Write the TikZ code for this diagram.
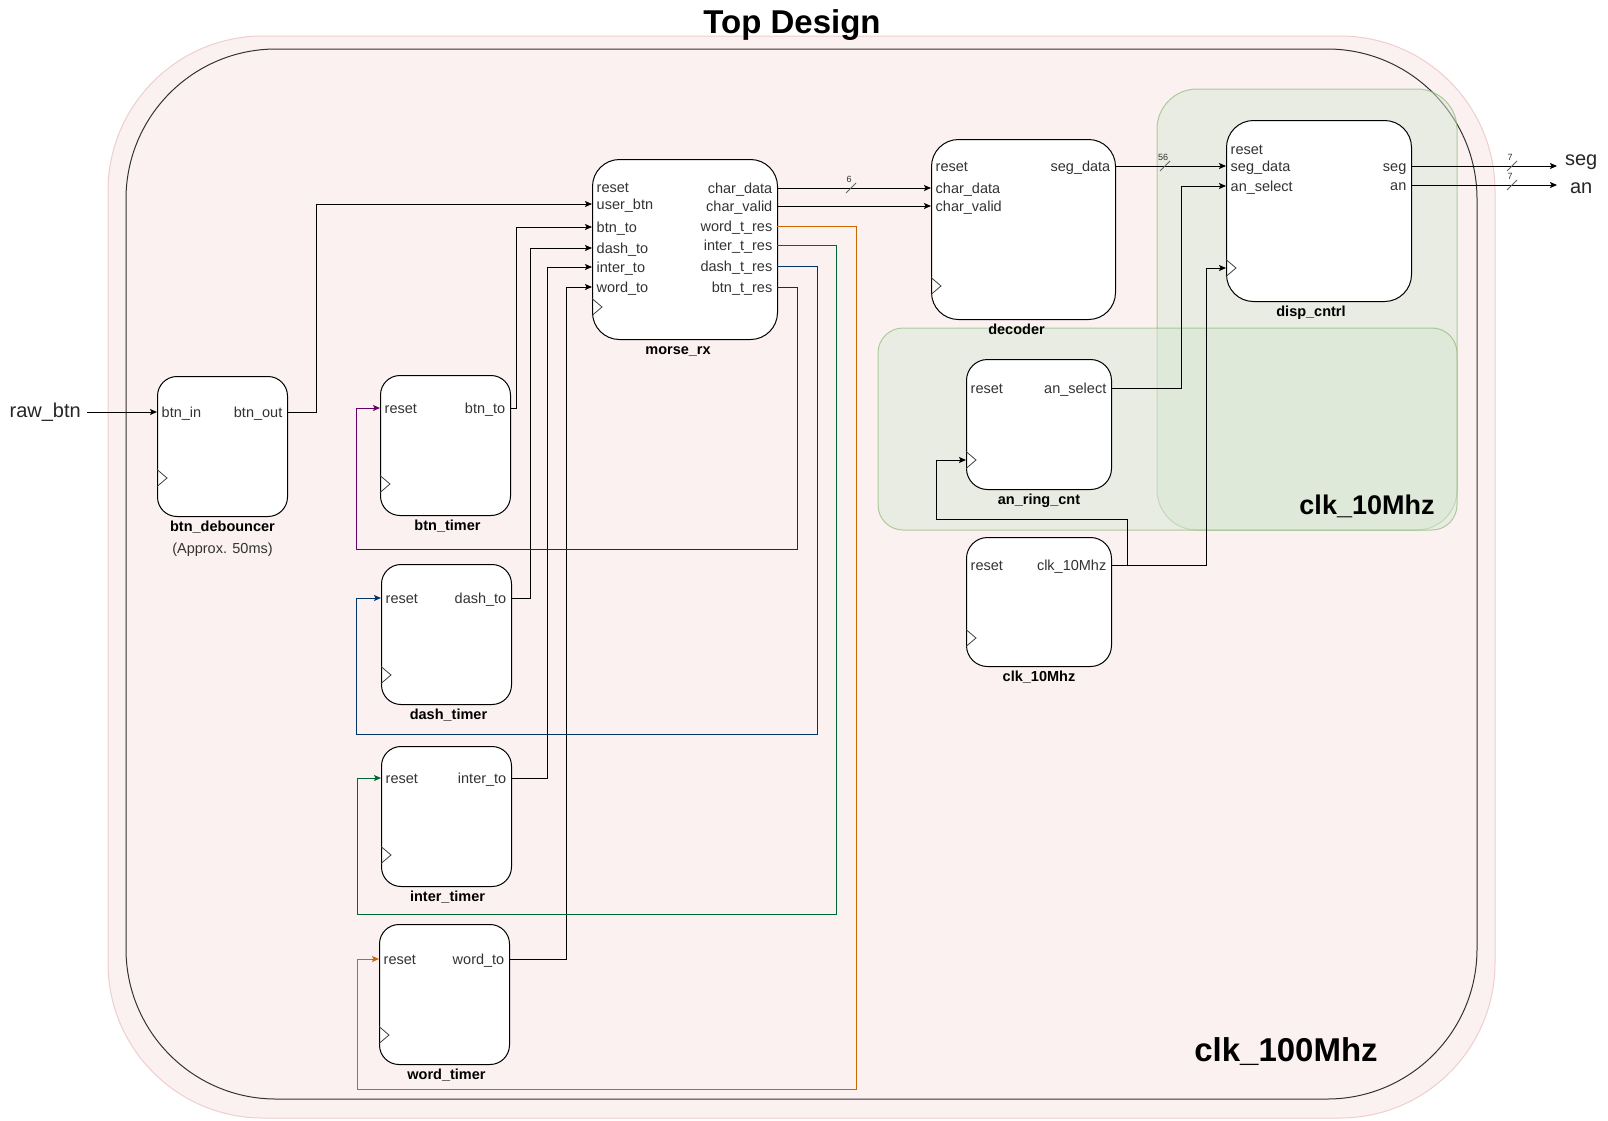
\documentclass[tikz,border=0pt]{standalone}
\usepackage{fontspec}
\setmainfont{Liberation Sans}
\usetikzlibrary{arrows.meta,positioning}

\definecolor{regpink}{RGB}{252,241,241}
\definecolor{regpinkline}{RGB}{238,206,206}
\definecolor{reggreen}{RGB}{213,232,212}
\definecolor{reggreenline}{RGB}{130,179,102}
\definecolor{rstpurple}{RGB}{102,0,102}
\definecolor{rstblue}{RGB}{0,51,102}
\definecolor{rstgreen}{RGB}{0,102,51}
\definecolor{rstorange}{RGB}{204,102,0}

\newcommand{\clocktri}[2]{\draw[black!75, line width=0.8pt] (#1,#2-8.5) -- (#1+10,#2) -- (#1,#2+8.5);}
\newcommand{\buswidth}[4]{\draw[black!60, line width=0.8pt] (#1-5,#2+5) -- (#1+5,#2-5);
    \node[busnum] (#4) at (#1-2,#2-9) {#3};}

\begin{document}
\begin{tikzpicture}[x=1pt, y=-1pt, >={Stealth[length=7pt,width=6pt,inset=1.5pt]},
    module/.style={draw, fill=white, line width=1pt, anchor=north west, inner sep=0pt, rounded corners=#1},
    module/.default=19.5pt,
    pinl/.style={anchor=west, inner xsep=4.5pt, inner ysep=0pt, text height=14pt, text depth=3pt, text=black!80, font=\fontsize{14.5}{16}\selectfont},
    pinr/.style={pinl, anchor=east},
    modname/.style={inner sep=0pt, text height=10.5pt, text depth=3pt, font=\fontsize{14.5}{16}\selectfont\bfseries},
    note/.style={inner sep=0pt, text height=10.5pt, text depth=3pt, text=black!80, font=\fontsize{14.5}{16}\selectfont},
    extpin/.style={anchor=west, inner sep=0pt, minimum width=48pt, text=black!85, font=\fontsize{20}{22}\selectfont},
    busnum/.style={inner sep=0pt, text=black!80, font=\fontsize{9}{10}\selectfont},
    region/.style={fill=reggreen, draw=reggreenline, fill opacity=0.5, draw opacity=0.6, line width=1pt},
    wire/.style={line width=1pt}]

    \fill[white] (0,0) rectangle (1608,1120);
    \useasboundingbox (0,0) rectangle (1608,1120);

    % clock domains
    \draw[fill=regpink, draw=regpinkline, line width=1pt, rounded corners=155pt] (108,36) rectangle (1495,1118);
    \draw[black!80, line width=1pt, rounded corners=150pt] (126,49) rectangle (1477,1099);
    \draw[region, rounded corners=40pt] (1157,89) rectangle (1457,530);
    \draw[region, rounded corners=25pt] (878,328) rectangle (1457,530);

    \node[font=\fontsize{33}{36}\selectfont\bfseries] (title) at (792,25) {Top Design};
    \node[font=\fontsize{33}{36}\selectfont\bfseries] (lbl100) at (1286,1052) {clk\_100Mhz};
    \node[font=\fontsize{27}{30}\selectfont\bfseries] (lbl10) at (1367,506) {clk\_10Mhz};

    % btn_debouncer
    \node[module, minimum width=130pt, minimum height=140pt] (bd) at (157,376) {};
    \node[pinl] (bd-in) at (157,412) {btn\_in};
    \node[pinr] (bd-out) at (287,412) {btn\_out};
    \clocktri{157}{478}
    \node[modname, below=4pt of bd] (bd-name) {btn\_debouncer};
    \node[note, below=7.5pt of bd-name] (bd-note) {(Approx. 50ms)};
    \node[font=\fontsize{20}{22}\selectfont, text=black!85, anchor=east, inner ysep=0pt, inner xsep=6pt, text height=14pt, text depth=4pt] (raw) at (87,412) {raw\_btn};

    % timers
    \node[module, minimum width=130pt, minimum height=140pt] (bt) at (380,375) {};
    \node[pinl] (bt-rst) at (380,408) {reset};
    \node[pinr] (bt-to) at (510,408) {btn\_to};
    \clocktri{380}{484}
    \node[modname, below=4pt of bt, xshift=2pt] (bt-name) {btn\_timer};

    \node[module, minimum width=130pt, minimum height=140pt] (dt) at (381,564) {};
    \node[pinl] (dt-rst) at (381,598) {reset};
    \node[pinr] (dt-to) at (511,598) {dash\_to};
    \clocktri{381}{675}
    \node[modname, below=4pt of dt, xshift=2pt] (dt-name) {dash\_timer};

    \node[module, minimum width=130pt, minimum height=140pt] (it) at (381,746) {};
    \node[pinl] (it-rst) at (381,778) {reset};
    \node[pinr] (it-to) at (511,778) {inter\_to};
    \clocktri{381}{855}
    \node[modname, below=4pt of it, xshift=1pt] (it-name) {inter\_timer};

    \node[module, minimum width=130pt, minimum height=140pt] (wt) at (379,924) {};
    \node[pinl] (wt-rst) at (379,959) {reset};
    \node[pinr] (wt-to) at (509,959) {word\_to};
    \clocktri{379}{1035}
    \node[modname, below=4pt of wt, xshift=2pt] (wt-name) {word\_timer};

    % morse_rx
    \node[module=27pt, minimum width=185pt, minimum height=180pt] (mr) at (592,159) {};
    \node[pinl] (mr-rst) at (592,187) {reset};
    \node[pinl] (mr-user) at (592,204) {user\_btn};
    \node[pinl] (mr-btnto) at (592,227) {btn\_to};
    \node[pinl] (mr-dashto) at (592,248) {dash\_to};
    \node[pinl] (mr-interto) at (592,267) {inter\_to};
    \node[pinl] (mr-wordto) at (592,287) {word\_to};
    \node[pinr] (mr-cdata) at (777,188) {char\_data};
    \node[pinr] (mr-cvalid) at (777,206) {char\_valid};
    \node[pinr] (mr-wordres) at (777,226) {word\_t\_res};
    \node[pinr] (mr-interres) at (777,245) {inter\_t\_res};
    \node[pinr] (mr-dashres) at (777,266) {dash\_t\_res};
    \node[pinr] (mr-btnres) at (777,287) {btn\_t\_res};
    \clocktri{592}{307}
    \node[modname, below=4pt of mr, xshift=-7pt] (mr-name) {morse\_rx};

    % decoder
    \node[module=27pt, minimum width=184pt, minimum height=180pt] (de) at (931,139) {};
    \node[pinl] (de-rst) at (931,166) {reset};
    \node[pinl] (de-cdata) at (931,188) {char\_data};
    \node[pinl] (de-cvalid) at (931,206) {char\_valid};
    \node[pinr] (de-seg) at (1115,166) {seg\_data};
    \clocktri{931}{286}
    \node[modname, below=4pt of de, xshift=-7pt] (de-name) {decoder};

    % disp_cntrl
    \node[module=27pt, minimum width=185pt, minimum height=181pt] (dc) at (1226,120) {};
    \node[pinl] (dc-rst) at (1226,149) {reset};
    \node[pinl] (dc-segd) at (1226,166) {seg\_data};
    \node[pinl] (dc-sel) at (1226,186) {an\_select};
    \node[pinr] (dc-seg) at (1411,166) {seg};
    \node[pinr] (dc-an) at (1411,185) {an};
    \clocktri{1226}{268}
    \coordinate (dc-clk) at (1226,268);
    \node[modname, below=4pt of dc, xshift=-8pt] (dc-name) {disp\_cntrl};
    \node[extpin, text height=11pt, text depth=13pt] (seg-o) at (1557,166) {seg};
    \node[extpin, text height=16pt, text depth=0pt] (an-o) at (1557,185) {an};

    % an_ring_cnt and clk_10Mhz
    \node[module=21pt, minimum width=145pt, minimum height=130pt] (ar) at (966,359) {};
    \node[pinl] (ar-rst) at (966,388) {reset};
    \node[pinr] (ar-sel) at (1111,388) {an\_select};
    \clocktri{966}{460}
    \coordinate (ar-clk) at (966,460);
    \node[modname, below=4pt of ar] (ar-name) {an\_ring\_cnt};

    \node[module=21pt, minimum width=145pt, minimum height=129pt] (ck) at (966,537) {};
    \node[pinl] (ck-rst) at (966,565) {reset};
    \node[pinr] (ck-out) at (1111,565) {clk\_10Mhz};
    \clocktri{966}{638}
    \node[modname, below=4pt of ck] (ck-name) {clk\_10Mhz};

    % connections
    \draw[wire,->] (raw.east) -- (bd-in.west);
    \draw[wire,->] (bd-out.east) -- ++(29,0) |- (mr-user.west);
    \draw[wire,->] (bt-to.east) -- ++(6,0) |- (mr-btnto.west);
    \draw[wire,->] (dt-to.east) -- ++(19,0) |- (mr-dashto.west);
    \draw[wire,->] (it-to.east) -- ++(36,0) |- (mr-interto.west);
    \draw[wire,->] (wt-to.east) -- ++(57,0) |- (mr-wordto.west);

    \draw[wire, rstpurple, ->] (mr-btnres.east) -| (797,549) -| ([xshift=-24pt]bt-rst.west) -- (bt-rst.west);
    \draw[wire, rstblue, ->] (mr-dashres.east) -| (817,734) -| ([xshift=-25pt]dt-rst.west) -- (dt-rst.west);
    \draw[wire, rstgreen, ->] (mr-interres.east) -| (836,914) -| ([xshift=-24pt]it-rst.west) -- (it-rst.west);
    \draw[wire, rstorange, ->] (mr-wordres.east) -| (856,1089) -| ([xshift=-22pt]wt-rst.west) -- (wt-rst.west);

    \draw[wire,->] (mr-cdata.east) -- (de-cdata.west);
    \draw[wire,->] (mr-cvalid.east) -- (de-cvalid.west);
    \buswidth{851}{188}{6}{bus-cdata}
    \draw[wire,->] (de-seg.east) -- (dc-segd.west);
    \buswidth{1165}{166}{56}{bus-segd}

    \draw[wire,->] (ar-sel.east) -| ([xshift=-45pt]dc-sel.west) -- (dc-sel.west);
    \draw[wire,->] (ck-out.east) -| ([xshift=-20pt]dc-clk) -- (dc-clk);
    \draw[wire,->] ([xshift=16pt]ck-out.east) -- ++(0,-46) -| ([xshift=-30pt]ar-clk) -- (ar-clk);

    \draw[wire,->] (dc-seg.east) -- (seg-o.west);
    \buswidth{1512}{166}{7}{bus-seg}
    \draw[wire,->] (dc-an.east) -- (an-o.west);
    \buswidth{1512}{185}{7}{bus-an}
\end{tikzpicture}
\end{document}
